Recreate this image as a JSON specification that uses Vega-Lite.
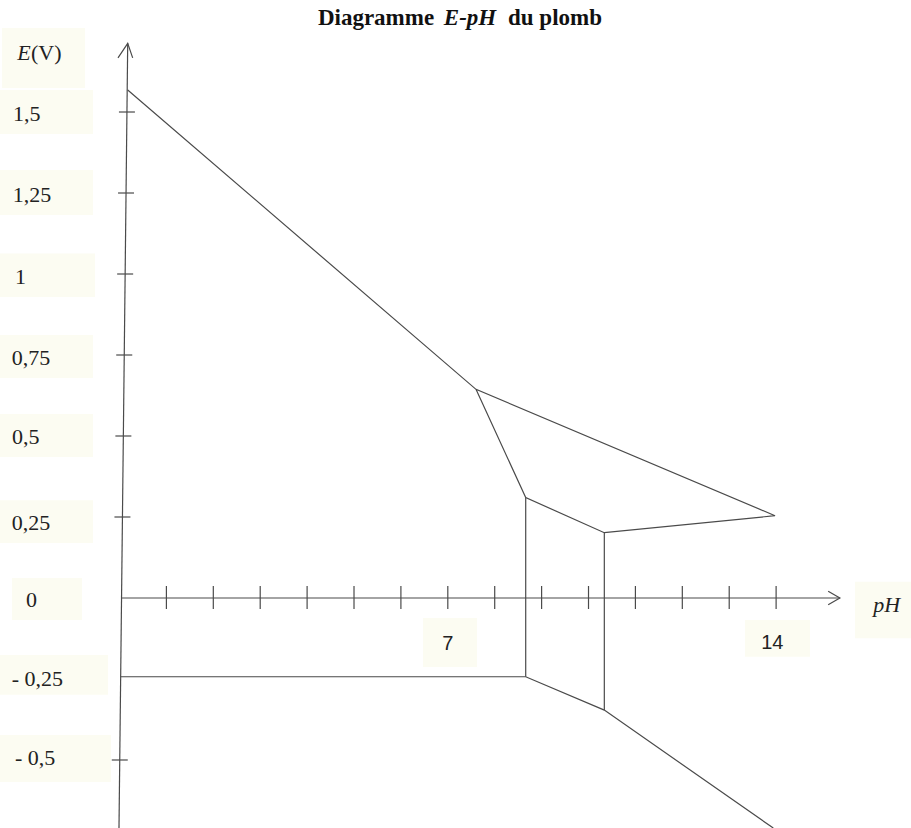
{
  "$schema": "https://vega.github.io/schema/vega-lite/v6.json",
  "width": 911,
  "height": 828,
  "autosize": "none",
  "padding": 0,
  "background": "white",
  "config": {"view": {"stroke": null}},
  "layer": [
    {
      "data": {"values": [
        {"a": -2.505, "b": -0.736, "lo": 1.574, "hi": 1.759},
        {"a": -2.548, "b": -0.565, "lo": 1.432, "hi": 1.568},
        {"a": -2.548, "b": -0.565, "lo": 1.182, "hi": 1.321},
        {"a": -2.548, "b": -0.522, "lo": 0.929, "hi": 1.063},
        {"a": -2.548, "b": -0.565, "lo": 0.679, "hi": 0.812},
        {"a": -2.548, "b": -0.565, "lo": 0.435, "hi": 0.568},
        {"a": -2.548, "b": -0.565, "lo": 0.170, "hi": 0.302},
        {"a": -2.292, "b": -0.800, "lo": -0.068, "hi": 0.062},
        {"a": -2.548, "b": -0.245, "lo": -0.299, "hi": -0.176},
        {"a": -2.548, "b": -0.181, "lo": -0.568, "hi": -0.423},
        {"a": 6.471, "b": 7.623, "lo": -0.213, "hi": -0.062},
        {"a": 13.337, "b": 14.723, "lo": -0.181, "hi": -0.068},
        {"a": 15.682, "b": 16.876, "lo": -0.124, "hi": 0.050}
      ]},
      "mark": {"type": "rect", "fill": "#fcfcf2", "stroke": null},
      "encoding": {
        "x": {"field": "a", "type": "quantitative", "scale": {"domain": [-2.548, 16.876], "nice": false, "zero": false}, "axis": null},
        "x2": {"field": "b"},
        "y": {"field": "lo", "type": "quantitative", "scale": {"domain": [-0.7099, 1.8457], "nice": false, "zero": false}, "axis": null},
        "y2": {"field": "hi"}
      }
    },
    {
      "data": {"values": [
        {"a": -0.012, "b": 0.329, "E": 1.5},
        {"a": -0.031, "b": 0.310, "E": 1.25},
        {"a": -0.050, "b": 0.291, "E": 1.0},
        {"a": -0.070, "b": 0.272, "E": 0.75},
        {"a": -0.088, "b": 0.253, "E": 0.5},
        {"a": -0.108, "b": 0.233, "E": 0.25},
        {"a": -0.165, "b": 0.176, "E": -0.5}
      ]},
      "mark": {"type": "rule", "color": "#4a4a4a", "strokeWidth": 1.2},
      "encoding": {
        "x": {"field": "a", "type": "quantitative", "scale": {"domain": [-2.548, 16.876], "nice": false, "zero": false}, "axis": null},
        "x2": {"field": "b"},
        "y": {"field": "E", "type": "quantitative", "scale": {"domain": [-0.7099, 1.8457], "nice": false, "zero": false}, "axis": null}
      }
    },
    {
      "data": {"values": [
        {"pH": 1, "lo": -0.034, "hi": 0.037},
        {"pH": 2, "lo": -0.034, "hi": 0.037},
        {"pH": 3, "lo": -0.034, "hi": 0.037},
        {"pH": 4, "lo": -0.034, "hi": 0.037},
        {"pH": 5, "lo": -0.034, "hi": 0.037},
        {"pH": 6, "lo": -0.034, "hi": 0.037},
        {"pH": 7, "lo": -0.034, "hi": 0.037},
        {"pH": 8, "lo": -0.034, "hi": 0.037},
        {"pH": 9, "lo": -0.034, "hi": 0.037},
        {"pH": 10, "lo": -0.034, "hi": 0.037},
        {"pH": 11, "lo": -0.034, "hi": 0.037},
        {"pH": 12, "lo": -0.034, "hi": 0.037},
        {"pH": 13, "lo": -0.034, "hi": 0.037},
        {"pH": 14, "lo": -0.034, "hi": 0.037}
      ]},
      "mark": {"type": "rule", "color": "#4a4a4a", "strokeWidth": 1.2},
      "encoding": {
        "x": {"field": "pH", "type": "quantitative", "scale": {"domain": [-2.548, 16.876], "nice": false, "zero": false}, "axis": null},
        "y": {"field": "lo", "type": "quantitative", "scale": {"domain": [-0.7099, 1.8457], "nice": false, "zero": false}, "axis": null},
        "y2": {"field": "hi"}
      }
    },
    {
      "data": {"values": [
        {"seg": "yaxis", "o": 1, "pH": 0.175, "E": 1.712},
        {"seg": "yaxis", "o": 2, "pH": -0.011, "E": -0.710},
        {"seg": "yarrow", "o": 1, "pH": -0.032, "E": 1.667},
        {"seg": "yarrow", "o": 2, "pH": 0.175, "E": 1.712},
        {"seg": "yarrow", "o": 3, "pH": 0.281, "E": 1.667},
        {"seg": "xaxis", "o": 1, "pH": 0.043, "E": 0},
        {"seg": "xaxis", "o": 2, "pH": 15.36, "E": 0},
        {"seg": "xarrow", "o": 1, "pH": 15.11, "E": 0.021},
        {"seg": "xarrow", "o": 2, "pH": 15.36, "E": 0},
        {"seg": "xarrow", "o": 3, "pH": 15.11, "E": -0.021},
        {"seg": "b1", "o": 1, "pH": 0.175, "E": 1.568},
        {"seg": "b1", "o": 2, "pH": 7.601, "E": 0.644},
        {"seg": "b1", "o": 3, "pH": 13.977, "E": 0.254},
        {"seg": "b1", "o": 4, "pH": 10.337, "E": 0.2015},
        {"seg": "b1", "o": 5, "pH": 8.661, "E": 0.310},
        {"seg": "b1", "o": 6, "pH": 7.601, "E": 0.644},
        {"seg": "b2", "o": 1, "pH": 8.661, "E": 0.310},
        {"seg": "b2", "o": 2, "pH": 8.661, "E": -0.243},
        {"seg": "b3", "o": 1, "pH": 10.337, "E": 0.2015},
        {"seg": "b3", "o": 2, "pH": 10.337, "E": -0.346},
        {"seg": "b4", "o": 1, "pH": 0.025, "E": -0.243},
        {"seg": "b4", "o": 2, "pH": 8.661, "E": -0.243},
        {"seg": "b4", "o": 3, "pH": 10.337, "E": -0.346},
        {"seg": "b4", "o": 4, "pH": 13.94, "E": -0.710}
      ]},
      "mark": {"type": "line", "color": "#4a4a4a", "strokeWidth": 1.2, "strokeJoin": "miter"},
      "encoding": {
        "x": {"field": "pH", "type": "quantitative", "scale": {"domain": [-2.548, 16.876], "nice": false, "zero": false}, "axis": null},
        "y": {"field": "E", "type": "quantitative", "scale": {"domain": [-0.7099, 1.8457], "nice": false, "zero": false}, "axis": null},
        "detail": {"field": "seg", "type": "nominal"},
        "order": {"field": "o", "type": "quantitative"}
      }
    },
    {
      "data": {"values": [
        {"t": "(V)", "pH": -1.887, "E": 1.660},
        {"t": "1,5", "pH": -2.271, "E": 1.472},
        {"t": "1,25", "pH": -2.277, "E": 1.223},
        {"t": "1", "pH": -2.228, "E": 0.969},
        {"t": "0,75", "pH": -2.299, "E": 0.719},
        {"t": "0,5", "pH": -2.292, "E": 0.475},
        {"t": "0,25", "pH": -2.299, "E": 0.210},
        {"t": "0", "pH": -1.994, "E": -0.028},
        {"t": "- 0,25", "pH": -2.299, "E": -0.273},
        {"t": "- 0,5", "pH": -2.228, "E": -0.515}
      ]},
      "mark": {"type": "text", "font": "Liberation Serif, Times New Roman, serif", "fontSize": 22, "align": "left", "baseline": "alphabetic", "color": "#222222"},
      "encoding": {
        "x": {"field": "pH", "type": "quantitative", "scale": {"domain": [-2.548, 16.876], "nice": false, "zero": false}, "axis": null},
        "y": {"field": "E", "type": "quantitative", "scale": {"domain": [-0.7099, 1.8457], "nice": false, "zero": false}, "axis": null},
        "text": {"field": "t", "type": "nominal"}
      }
    },
    {
      "data": {"values": [
        {"t": "E", "pH": -2.179, "E": 1.660},
        {"t": "pH", "pH": 16.07, "E": -0.042}
      ]},
      "mark": {"type": "text", "font": "Liberation Serif, Times New Roman, serif", "fontSize": 22, "fontStyle": "italic", "align": "left", "baseline": "alphabetic", "color": "#222222"},
      "encoding": {
        "x": {"field": "pH", "type": "quantitative", "scale": {"domain": [-2.548, 16.876], "nice": false, "zero": false}, "axis": null},
        "y": {"field": "E", "type": "quantitative", "scale": {"domain": [-0.7099, 1.8457], "nice": false, "zero": false}, "axis": null},
        "text": {"field": "t", "type": "nominal"}
      }
    },
    {
      "data": {"values": [
        {"t": "7", "pH": 7.0, "E": -0.160},
        {"t": "14", "pH": 13.92, "E": -0.157}
      ]},
      "mark": {"type": "text", "font": "Liberation Sans, Arial, sans-serif", "fontSize": 20, "align": "center", "baseline": "alphabetic", "color": "#222222"},
      "encoding": {
        "x": {"field": "pH", "type": "quantitative", "scale": {"domain": [-2.548, 16.876], "nice": false, "zero": false}, "axis": null},
        "y": {"field": "E", "type": "quantitative", "scale": {"domain": [-0.7099, 1.8457], "nice": false, "zero": false}, "axis": null},
        "text": {"field": "t", "type": "nominal"}
      }
    },
    {
      "data": {"values": [
        {"t": "Diagramme", "pH": 5.469, "E": 1.769},
        {"t": "du plomb", "pH": 9.286, "E": 1.769}
      ]},
      "mark": {"type": "text", "font": "Liberation Serif, Times New Roman, serif", "fontSize": 23, "fontWeight": "bold", "align": "center", "baseline": "alphabetic", "color": "#111111"},
      "encoding": {
        "x": {"field": "pH", "type": "quantitative", "scale": {"domain": [-2.548, 16.876], "nice": false, "zero": false}, "axis": null},
        "y": {"field": "E", "type": "quantitative", "scale": {"domain": [-0.7099, 1.8457], "nice": false, "zero": false}, "axis": null},
        "text": {"field": "t", "type": "nominal"}
      }
    },
    {
      "data": {"values": [
        {"t": "E-pH", "pH": 7.473, "E": 1.769}
      ]},
      "mark": {"type": "text", "font": "Liberation Serif, Times New Roman, serif", "fontSize": 23, "fontWeight": "bold", "fontStyle": "italic", "align": "center", "baseline": "alphabetic", "color": "#111111"},
      "encoding": {
        "x": {"field": "pH", "type": "quantitative", "scale": {"domain": [-2.548, 16.876], "nice": false, "zero": false}, "axis": null},
        "y": {"field": "E", "type": "quantitative", "scale": {"domain": [-0.7099, 1.8457], "nice": false, "zero": false}, "axis": null},
        "text": {"field": "t", "type": "nominal"}
      }
    }
  ]
}
